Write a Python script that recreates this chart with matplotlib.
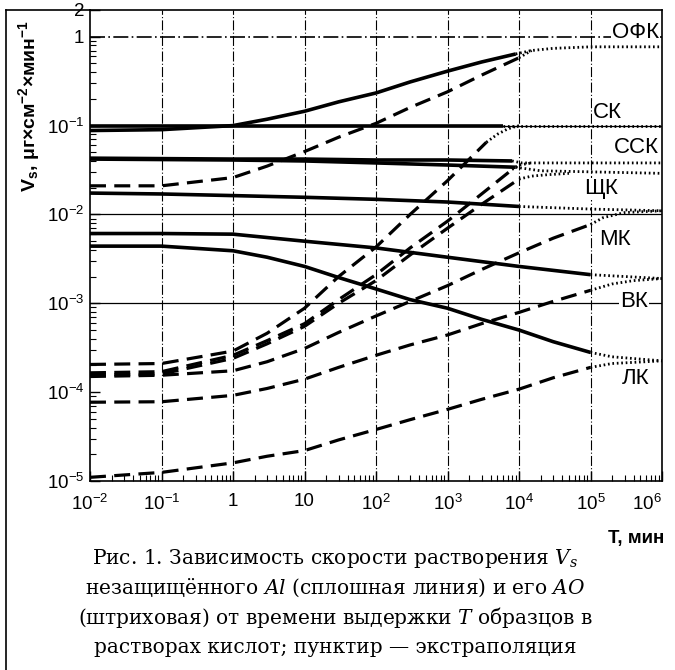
import matplotlib
matplotlib.use('Agg')
import matplotlib.pyplot as plt
from matplotlib.lines import Line2D

plt.rcParams['font.family'] = ['Liberation Sans', 'DejaVu Sans']
plt.rcParams['mathtext.fontset'] = 'custom'
plt.rcParams['mathtext.it'] = 'DejaVu Serif:italic'
plt.rcParams['mathtext.rm'] = 'DejaVu Serif'

# ---- данные ----
# ОФК
ofk_T = [1e-2, 1e-1, 1, 3, 10, 30, 100, 300, 1e3, 3e3, 9e3]
ofk_V = [0.088, 0.09, 0.1, 0.118, 0.145, 0.185, 0.233, 0.31, 0.41, 0.52, 0.64]
ofk_dT = [1e-2, 1e-1, 1, 3, 10, 30, 100, 300, 1e3, 3e3, 1e4]
ofk_dV = [0.021, 0.021, 0.026, 0.035, 0.051, 0.074, 0.106, 0.16, 0.24, 0.37, 0.58]
ofk_xT = [9e3, 1.5e4, 3e4, 1e5, 1e6]
ofk_xV = [0.64, 0.70, 0.74, 0.77, 0.77]
ofk_dxT = [1e4, 1.5e4]
ofk_dxV = [0.58, 0.70]
# СК
sk_T = [1e-2, 6e3]
sk_V = [0.1, 0.1]
sk_dT = [1e-2, 1e-1, 1, 3, 10, 30, 100, 300, 1e3, 3.5e3]
sk_dV = [2.05e-4, 2.1e-4, 2.9e-4, 4.6e-4, 8.8e-4, 2.0e-3, 4.3e-3, 1.0e-2, 0.024, 0.065]
sk_xT = [6e3, 1e6]
sk_xV = [0.1, 0.1]
sk_dxT = [3.5e3, 5e3, 7e3, 1e4]
sk_dxV = [0.065, 0.08, 0.092, 0.1]
# ССК
ssk_T = [1e-2, 1, 10, 100, 1e3, 8e3]
ssk_V = [0.043, 0.042, 0.042, 0.041, 0.041, 0.040]
ssk_dT = [1e-2, 1e-1, 1, 3, 10, 30, 100, 300, 1e3, 3e3, 8e3]
ssk_dV = [1.65e-4, 1.7e-4, 2.6e-4, 3.8e-4, 5.9e-4, 1.1e-3, 2.1e-3, 4.2e-3, 8.4e-3, 0.017, 0.032]
ssk_xT = [8e3, 1.1e4, 1e6]
ssk_xV = [0.040, 0.038, 0.038]
ssk_dxT = [8e3, 1e4, 1.5e4]
ssk_dxV = [0.032, 0.036, 0.038]
# ЩК
shk_T = [1e-2, 1, 10, 100, 1e3, 9e3]
shk_V = [0.042, 0.041, 0.040, 0.038, 0.036, 0.034]
shk_dT = [1e-2, 1e-1, 1, 3, 10, 30, 100, 300, 1e3, 3e3, 1e4]
shk_dV = [1.55e-4, 1.6e-4, 2.4e-4, 3.5e-4, 5.5e-4, 1.0e-3, 1.8e-3, 3.5e-3, 7.0e-3, 0.013, 0.025]
shk_xT = [9e3, 2e4, 1e6]
shk_xV = [0.034, 0.031, 0.029]
shk_dxT = [1e4, 1.5e4, 2.5e4, 5e4]
shk_dxV = [0.025, 0.027, 0.028, 0.029]
# МК
mk_T = [1e-2, 1e-1, 1, 10, 100, 1e3, 1e4]
mk_V = [0.0174, 0.017, 0.0163, 0.0156, 0.0148, 0.0138, 0.0123]
mk_dT = [1e-2, 1e-1, 1, 3, 10, 30, 100, 300, 1e3, 3e3, 1e4, 3e4, 1e5]
mk_dV = [1.5e-4, 1.55e-4, 1.74e-4, 2.2e-4, 3.1e-4, 4.7e-4, 7.2e-4, 1.05e-3, 1.58e-3, 2.4e-3, 3.7e-3, 5.4e-3, 7.7e-3]
mk_xT = [1e4, 1e5, 1e6]
mk_xV = [0.0123, 0.0115, 0.011]
mk_dxT = [1e5, 1.5e5, 3e5, 1e6]
mk_dxV = [0.0077, 0.0092, 0.0105, 0.011]
# ВК
vk_T = [1e-2, 1e-1, 1, 10, 100, 1e3, 1e4, 1e5]
vk_V = [6.1e-3, 6.1e-3, 6.0e-3, 5.0e-3, 4.2e-3, 3.3e-3, 2.6e-3, 2.1e-3]
vk_dT = [1e-2, 1e-1, 1, 3, 10, 30, 100, 300, 1e3, 3e3, 1e4, 3e4, 1e5]
vk_dV = [7.7e-5, 7.8e-5, 9.2e-5, 1.1e-4, 1.4e-4, 1.9e-4, 2.6e-4, 3.4e-4, 4.4e-4, 5.9e-4, 7.9e-4, 1.05e-3, 1.4e-3]
vk_xT = [1e5, 1e6]
vk_xV = [2.1e-3, 1.9e-3]
vk_dxT = [1e5, 2e5, 4e5, 1e6]
vk_dxV = [1.4e-3, 1.65e-3, 1.8e-3, 1.9e-3]
# ЛК
lk_T = [1e-2, 1e-1, 1, 3, 10, 30, 100, 300, 1e3, 3e3, 1e4, 3e4, 1e5]
lk_V = [4.4e-3, 4.4e-3, 3.9e-3, 3.3e-3, 2.6e-3, 1.95e-3, 1.45e-3, 1.1e-3, 8.8e-4, 6.6e-4, 5.0e-4, 3.7e-4, 2.8e-4]
lk_dT = [1e-2, 1e-1, 1, 3, 10, 30, 100, 300, 1e3, 3e3, 1e4, 3e4, 1e5]
lk_dV = [1.1e-5, 1.25e-5, 1.6e-5, 1.9e-5, 2.2e-5, 2.9e-5, 3.8e-5, 4.9e-5, 6.4e-5, 8.3e-5, 1.08e-4, 1.45e-4, 1.9e-4]
lk_xT = [1e5, 2e5, 1e6]
lk_xV = [2.8e-4, 2.5e-4, 2.25e-4]
lk_dxT = [1e5, 2e5, 1e6]
lk_dxV = [1.9e-4, 2.1e-4, 2.25e-4]

acids = ['ОФК', 'СК', 'ССК', 'ЩК', 'МК', 'ВК', 'ЛК']
label_T = [10**5.96, 10**5.23, 10**5.96, 10**5.154, 10**5.34, 10**5.608, 10**5.636]
label_V = [1.12, 0.142, 0.0562, 0.0195, 5.27e-3, 1.04e-3, 1.41e-4]
label_ha = ['right', 'center', 'right', 'center', 'center', 'center', 'center']

x_ticks = [1e-2, 1e-1, 1, 10, 1e2, 1e3, 1e4, 1e5, 1e6]
x_ticklabels = ['10$^{\\mathregular{-2}}$', '10$^{\\mathregular{-1}}$', '1', '10',
                '10$^{\\mathregular{2}}$', '10$^{\\mathregular{3}}$', '10$^{\\mathregular{4}}$',
                '10$^{\\mathregular{5}}$', '10$^{\\mathregular{6}}$']
y_ticks = [1e-5, 1e-4, 1e-3, 1e-2, 1e-1, 1, 2]
y_ticklabels = ['10$^{\\mathregular{-5}}$', '10$^{\\mathregular{-4}}$', '10$^{\\mathregular{-3}}$',
                '10$^{\\mathregular{-2}}$', '10$^{\\mathregular{-1}}$', '1', '2']

caption = ['Рис. 1. Зависимость скорости растворения $V_s$',
           'незащищённого $Al$ (сплошная линия) и его $AO$',
           '(штриховая) от времени выдержки $T$ образцов в',
           'растворах кислот; пунктир — экстраполяция']

fig = plt.figure(figsize=(6.75, 6.70), dpi=100)
ax = fig.add_axes([90 / 675, 1 - 481 / 670, (662 - 90) / 675, (481 - 10) / 670])
ax.set_xscale('log')
ax.set_yscale('log')
ax.set_xlim(1e-2, 1e6)
ax.set_ylim(1e-5, 2)

# сетка
for t in x_ticks[1:-1]:
    ax.axvline(t, color='black', lw=0.8, ls=(0, (9, 2, 1, 2)), zorder=1)
for v in [1e-3, 1e-2, 1e-1]:
    ax.axhline(v, color='black', lw=0.9, zorder=1)
ax.axhline(1, color='black', lw=1.2, ls=(0, (9, 2, 1, 2)), zorder=1)

solid = dict(color='black', lw=2.6, solid_capstyle='butt', zorder=3)
dashed = dict(color='black', lw=2.3, ls=(0, (5, 2.6)), zorder=3)
dotted = dict(color='black', lw=2.0, ls=(0, (0.6, 1.0)), zorder=3)

curves = [
    (ofk_T, ofk_V, ofk_dT, ofk_dV, ofk_xT, ofk_xV, ofk_dxT, ofk_dxV),
    (sk_T, sk_V, sk_dT, sk_dV, sk_xT, sk_xV, sk_dxT, sk_dxV),
    (ssk_T, ssk_V, ssk_dT, ssk_dV, ssk_xT, ssk_xV, ssk_dxT, ssk_dxV),
    (shk_T, shk_V, shk_dT, shk_dV, shk_xT, shk_xV, shk_dxT, shk_dxV),
    (mk_T, mk_V, mk_dT, mk_dV, mk_xT, mk_xV, mk_dxT, mk_dxV),
    (vk_T, vk_V, vk_dT, vk_dV, vk_xT, vk_xV, vk_dxT, vk_dxV),
    (lk_T, lk_V, lk_dT, lk_dV, lk_xT, lk_xV, lk_dxT, lk_dxV),
]
for sT, sV, dT, dV, xT, xV, dxT, dxV in curves:
    ax.plot(sT, sV, **solid)
    ax.plot(dT, dV, **dashed)
    ax.plot(xT, xV, **dotted)
    ax.plot(dxT, dxV, **dotted)

for name, t, v, ha in zip(acids, label_T, label_V, label_ha):
    ax.text(t, v, name, ha=ha, va='center', fontsize=16, zorder=5,
            bbox=dict(facecolor='white', edgecolor='none', pad=0.5))

ax.set_xticks(x_ticks)
ax.set_xticklabels(x_ticklabels, fontsize=13.5)
ax.get_xticklabels()[-1].set_ha('right')
ax.set_yticks(y_ticks)
ax.set_yticklabels(y_ticklabels, fontsize=13.5)
ax.tick_params(which='major', direction='in', length=7, width=1, pad=4)
ax.tick_params(axis='x', which='major', pad=9)
ax.tick_params(which='minor', direction='in', length=4, width=0.8)
for s in ax.spines.values():
    s.set_linewidth(1.2)

fig.text(29 / 675, 1 - 106 / 670, 'V$_{\\mathregular{s}}$, μг×см$^{\\mathregular{-2}}$×мин$^{\\mathregular{-1}}$',
         rotation=90, ha='center', va='center', fontsize=14, fontweight='bold')
fig.text(664 / 675, 1 - 538 / 670, 'T, мин', ha='right', va='center', fontsize=13.5, fontweight='bold')

for i, line in enumerate(caption):
    fig.text(335 / 675, 1 - (558 + 29.7 * i) / 670, line, ha='center', va='center',
             fontsize=14.5, family=['DejaVu Serif'])

# рамка слева
fig.add_artist(Line2D([6 / 675, 6 / 675], [0, 1 - 10 / 670], color='black', lw=1.2))
fig.add_artist(Line2D([6 / 675, 90 / 675], [1 - 10 / 670, 1 - 10 / 670], color='black', lw=1.2))

fig.savefig('out.png', dpi=100)
